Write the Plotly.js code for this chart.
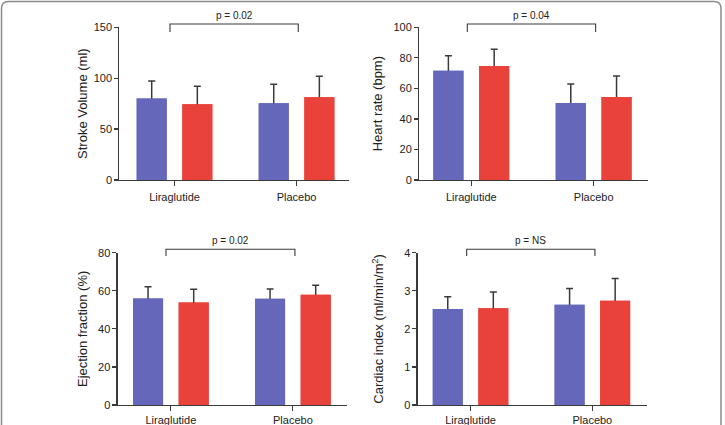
<!DOCTYPE html>
<html><head><meta charset="utf-8">
<script src="https://cdn.plot.ly/plotly-3.0.1.min.js"></script>
<style>html,body{margin:0;padding:0;background:#fff}#chart{width:725px;height:425px}</style>
</head><body><div id="chart"></div>
<script>
// ---- data ----
const categories = ['Liraglutide', 'Placebo'];

const strokeVolumeBlue = [80.0, 75.5];
const strokeVolumeBlueSD = [17.3, 18.5];
const strokeVolumeRed = [74.5, 81.4];
const strokeVolumeRedSD = [17.5, 20.6];

const heartRateBlue = [71.6, 50.4];
const heartRateBlueSD = [9.8, 12.5];
const heartRateRed = [74.7, 54.4];
const heartRateRedSD = [10.9, 13.7];

const ejectionBlue = [56.0, 55.8];
const ejectionBlueSD = [6.1, 5.1];
const ejectionRed = [53.9, 57.9];
const ejectionRedSD = [6.9, 5.0];

const cardiacBlue = [2.52, 2.63];
const cardiacBlueSD = [0.32, 0.43];
const cardiacRed = [2.54, 2.74];
const cardiacRedSD = [0.43, 0.58];

const pLabels = ['p = 0.02', 'p = 0.04', 'p = 0.02', 'p = NS'];
const yTitles = ['Stroke Volume (ml)', 'Heart rate (bpm)', 'Ejection fraction (%)', 'Cardiac index (ml/min/m<sup>2</sup>)'];
const yTickVals = [[0, 50, 100, 150], [0, 20, 40, 60, 80, 100], [0, 20, 40, 60, 80], [0, 1, 2, 3, 4]];
const yMax = [150, 100, 80, 4];

// ---- styling / layout ----
const BLUE = '#6567ba';
const RED = '#e8423b';
const INK = '#3a3a3a';
const FONT = 'Liberation Sans, Arial, Helvetica, sans-serif';

const panels = [
  {blue: strokeVolumeBlue, blueSD: strokeVolumeBlueSD, red: strokeVolumeRed, redSD: strokeVolumeRedSD,
   xdom: [0.1648, 0.4814], ydom: [0.5765, 0.9358], xr: [-0.451, 1.43], standoff: 3, xstand: 2,
   br: [0.220, 0.779], brY: [0.969, 1.0216], pY: 1.074},
  {blue: heartRateBlue, blueSD: heartRateBlueSD, red: heartRateRed, redSD: heartRateRedSD,
   xdom: [0.5783, 0.8938], ydom: [0.5765, 0.9358], xr: [-0.425, 1.444], standoff: 8, xstand: 2,
   br: [0.210, 0.771], brY: [0.969, 1.0216], pY: 1.074},
  {blue: ejectionBlue, blueSD: ejectionBlueSD, red: ejectionRed, redSD: ejectionRedSD,
   xdom: [0.1623, 0.4782], ydom: [0.0471, 0.4054], xr: [-0.436, 1.441], standoff: 7, xstand: 0,
   br: [0.211, 0.774], brY: [0.978, 1.0223], pY: 1.079},
  {blue: cardiacBlue, blueSD: cardiacBlueSD, red: cardiacRed, redSD: cardiacRedSD,
   xdom: [0.5761, 0.8920], ydom: [0.0471, 0.4054], xr: [-0.434, 1.446], standoff: 17, xstand: 0,
   br: [0.214, 0.774], brY: [0.978, 1.0223], pY: 1.079}
];

const traces = [];
const layout = {
  width: 725, height: 425,
  margin: {l: 0, r: 0, t: 0, b: 0},
  paper_bgcolor: '#fff', plot_bgcolor: '#fff',
  showlegend: false,
  barmode: 'group', bargap: 0.252, bargroupgap: 0.342,
  font: {family: FONT, color: '#222', size: 11},
  shapes: [], annotations: []
};

function errBar(sd) {
  return {type: 'data', array: sd, symmetric: true, color: INK, thickness: 1.5, width: 3.5};
}

panels.forEach((p, i) => {
  const n = i === 0 ? '' : String(i + 1);
  const xa = 'x' + n, ya = 'y' + n;
  // bars with error bars (lower half of each error bar hidden by the bars drawn on top)
  traces.push({type: 'bar', x: categories, y: p.blue, xaxis: xa, yaxis: ya, offsetgroup: 'b',
    marker: {color: BLUE}, error_y: errBar(p.blueSD), hoverinfo: 'skip'});
  traces.push({type: 'bar', x: categories, y: p.red, xaxis: xa, yaxis: ya, offsetgroup: 'r',
    marker: {color: RED}, error_y: errBar(p.redSD), hoverinfo: 'skip'});
  traces.push({type: 'bar', x: categories, y: p.blue, xaxis: xa, yaxis: ya, offsetgroup: 'b',
    marker: {color: BLUE}, hoverinfo: 'skip'});
  traces.push({type: 'bar', x: categories, y: p.red, xaxis: xa, yaxis: ya, offsetgroup: 'r',
    marker: {color: RED}, hoverinfo: 'skip'});

  layout['xaxis' + n] = {
    domain: p.xdom, anchor: ya, type: 'category', range: p.xr,
    showline: true, linecolor: INK, linewidth: 1.2,
    ticks: 'outside', ticklen: 5, tickwidth: 1.2, tickcolor: INK, ticklabelstandoff: p.xstand,
    showgrid: false, zeroline: false, fixedrange: true,
    tickfont: {size: 11, color: '#222', family: FONT}
  };
  layout['yaxis' + n] = {
    domain: p.ydom, anchor: xa, range: [0, yMax[i]], tickvals: yTickVals[i],
    showline: true, linecolor: INK, linewidth: 1.2,
    ticks: 'outside', ticklen: 4, tickwidth: 1.2, tickcolor: INK,
    showgrid: false, zeroline: false, fixedrange: true,
    tickfont: {size: 11, color: '#222', family: FONT},
    title: {text: yTitles[i], font: {size: 13, color: '#222', family: FONT}, standoff: p.standoff}
  };

  // significance bracket
  layout.shapes.push({
    type: 'path', xref: xa + ' domain', yref: ya + ' domain',
    path: `M ${p.br[0]},${p.brY[0]} L ${p.br[0]},${p.brY[1]} L ${p.br[1]},${p.brY[1]} L ${p.br[1]},${p.brY[0]}`,
    line: {color: INK, width: 1.1}
  });
  layout.annotations.push({
    xref: xa + ' domain', yref: ya + ' domain',
    x: (p.br[0] + p.br[1]) / 2, y: p.pY, xanchor: 'center', yanchor: 'middle',
    text: pLabels[i], showarrow: false, font: {size: 10, color: '#222', family: FONT}
  });
});

// outer rounded frame (bottom is cut off in the original)
const rx = 7 / 725, ry = 7 / 425;
const L = 0.0021, T = 0.9965, R = 0.9945;
layout.shapes.push({
  type: 'path', xref: 'paper', yref: 'paper', layer: 'above',
  path: `M ${L},-0.05 L ${L},${T - ry} Q ${L},${T} ${L + rx},${T} L ${R - rx},${T} Q ${R},${T} ${R},${T - ry} L ${R},-0.05`,
  line: {color: '#8c8c8c', width: 1.5}
});

Plotly.newPlot('chart', traces, layout, {displayModeBar: false, staticPlot: true});
</script>
</body></html>
